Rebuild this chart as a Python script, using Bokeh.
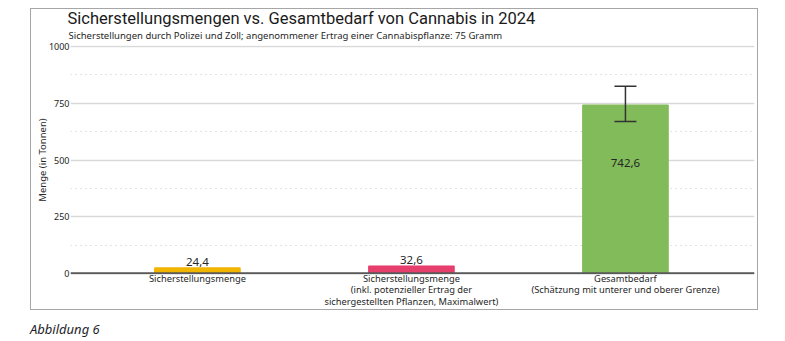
from bokeh.plotting import figure
from bokeh.models import Range1d, FixedTicker, Span, Whisker, TeeHead, ColumnDataSource, Title, Div
from bokeh.layouts import column
from bokeh.embed import file_html
from bokeh.resources import INLINE
from bokeh.core.properties import value
import numpy as np

# ---- data ----
categories = [
    "Sicherstellungsmenge",
    "Sicherstellungsmenge\n(inkl. potenzieller Ertrag der\nsichergestellten Pflanzen, Maximalwert)",
    "Gesamtbedarf\n(Schätzung mit unterer und oberer Grenze)",
]
values = [24.4, 32.6, 742.6]
value_labels = ["24,4", "32,6", "742,6"]
bar_colors = ["#f1b500", "#e63f6e", "#82bb5a"]
err_base = [2]
err_lower = [670]
err_upper = [825]
y_ticks = [0, 250, 500, 750, 1000]
y_minor = [125, 375, 625, 875]

title_text = "Sicherstellungsmengen vs. Gesamtbedarf von Cannabis in 2024"
subtitle_text = "Sicherstellungen durch Polizei und Zoll; angenommener Ertrag einer Cannabispflanze: 75 Gramm"
y_label = "Menge (in Tonnen)"
caption_text = "Abbildung 6"

FONT = "Noto Sans"
TXT = "#262626"

xs = list(range(len(categories)))

p = figure(width=728, height=302, output_backend="svg", toolbar_location=None, title=None,
           x_range=Range1d(-0.593, 2.603), y_range=Range1d(-5, 1005),
           min_border_left=39, min_border_right=5, min_border_top=36, min_border_bottom=37)
p.margin = (8, 0, 0, 30)
p.styles = {"border": "1px solid #a6a6a6"}
p.outline_line_color = None
p.background_fill_color = "white"
p.border_fill_color = "white"

# title / subtitle
p.add_layout(Title(text=subtitle_text, align="left", offset=-2, standoff=8,
                   text_font=FONT, text_font_size="9.5px", text_font_style="normal",
                   text_color=TXT), "above")
p.add_layout(Title(text=title_text, align="left", offset=-3, standoff=-10,
                   text_font="Roboto", text_font_size="16.5px", text_font_style="normal",
                   text_color="#1a1a1a"), "above")

# grid
p.xgrid.visible = False
tick = FixedTicker(ticks=y_ticks, minor_ticks=y_minor)
p.ygrid.ticker = tick
p.ygrid.grid_line_color = "#d9d9d9"
p.ygrid.grid_line_width = 1.5
p.ygrid.minor_grid_line_color = "#c8c8c8"
p.ygrid.minor_grid_line_dash = "1 4"

# y axis
p.yaxis.ticker = tick
p.yaxis.axis_line_color = None
p.yaxis.major_tick_line_color = None
p.yaxis.major_tick_out = 0
p.yaxis.major_tick_in = 0
p.yaxis.minor_tick_line_color = None
p.yaxis.minor_tick_out = 0
p.yaxis.minor_tick_in = 0
p.yaxis.major_label_text_font = FONT
p.yaxis.major_label_text_font_size = "9px"
p.yaxis.major_label_text_color = TXT
p.yaxis.major_label_standoff = 1
p.yaxis.axis_label = y_label
p.yaxis.axis_label_text_font = FONT
p.yaxis.axis_label_text_font_size = "9.5px"
p.yaxis.axis_label_text_font_style = "normal"
p.yaxis.axis_label_text_color = TXT
p.yaxis.axis_label_standoff = -3

# x axis
p.xaxis.ticker = FixedTicker(ticks=xs)
p.xaxis.major_label_overrides = {i: c for i, c in zip(xs, categories)}
p.xaxis.axis_line_color = None
p.xaxis.major_tick_line_color = None
p.xaxis.major_tick_out = 0
p.xaxis.major_tick_in = 0
p.xaxis.minor_tick_line_color = None
p.xaxis.minor_tick_out = 0
p.xaxis.minor_tick_in = 0
p.xaxis.major_label_text_font = FONT
p.xaxis.major_label_text_font_size = "9.3px"
p.xaxis.major_label_text_color = TXT
p.xaxis.major_label_text_line_height = 0.9
p.xaxis.major_label_standoff = -3

# bars
p.vbar(x=xs, top=values, bottom=0, width=0.4, color=bar_colors)

# baseline
p.add_layout(Span(location=0, dimension="width", line_color="#595959", line_width=2))

# error bar
src = ColumnDataSource(dict(base=err_base, lower=err_lower, upper=err_upper))
w = Whisker(base="base", lower="lower", upper="upper", source=src, level="annotation",
            line_color="#333333", line_width=1.5,
            upper_head=TeeHead(size=22, line_color="#333333", line_width=1.5),
            lower_head=TeeHead(size=22, line_color="#333333", line_width=1.5))
p.add_layout(w)

# value labels
vals = np.array(values)
label_y = np.where(vals > 100, vals * 0.653, vals)
label_base = ["bottom" if v <= 100 else "middle" for v in vals]
for xv, yv, t, b in zip(xs, label_y, value_labels, label_base):
    p.text(x=[xv], y=[yv], text=[t], text_align="center", text_baseline=b,
           y_offset=-2 if b == "bottom" else 0,
           text_font=value(FONT), text_font_size="11.5px", text_color=TXT)

caption = Div(text=caption_text, width=200, height=20, margin=(12, 0, 0, 30),
              styles={"font-family": "Noto Sans", "font-size": "13px", "font-style": "italic",
                      "color": "#1d1d2b", "line-height": "14px"})

layout = column(p, caption, spacing=0)
layout.margin = 0
open("out.html", "w").write(file_html(layout, INLINE))
